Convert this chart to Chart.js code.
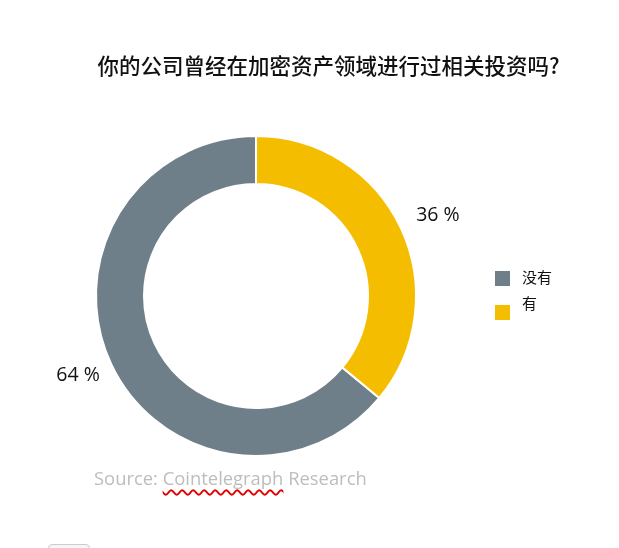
<!DOCTYPE html>
<html>
<head>
<meta charset="utf-8">
<script src="https://cdn.jsdelivr.net/npm/chart.js@4"></script>
<style>
  html, body { margin: 0; padding: 0; background: #fff; }
  #wrap { position: relative; width: 619px; height: 548px; overflow: hidden; }
  #chart { position: absolute; left: 0; top: 0; }
  #title {
    position: absolute; left: 0; top: 49px; width: 657px; text-align: center;
    font-family: "Noto Sans CJK SC", sans-serif; font-size: 21.5px; color: #111;
    font-weight: 500; white-space: nowrap;
  }
  #source {
    position: absolute; left: 94px; top: 465px;
    font-family: "Open Sans", sans-serif; font-size: 18.4px; color: #bdbdbd;
    white-space: nowrap;
  }
  #source .sp { text-decoration: underline wavy #e00000; text-decoration-thickness: 2px; text-underline-offset: 4px; }
  #tab {
    position: absolute; left: 48px; top: 544px; width: 40px; height: 10px;
    border: 1px solid #ccc; border-radius: 4px; background: #f6f6f6;
  }
</style>
</head>
<body>
<div id="wrap">
  <canvas id="chart" width="619" height="548"></canvas>
  <div id="title">你的公司曾经在加密资产领域进行过相关投资吗?</div>
  <div id="source">Source: <span class="sp">Cointelegraph</span> Research</div>
  <div id="tab"></div>
</div>
<script>
const categories = ['没有', '有'];
const shareValues = [64, 36];
const pctLabels = ['64 %', '36 %'];
const sliceColors = ['#6f7f89', '#f5bd00'];

// percentage labels outside each slice
const outsideLabels = {
    id: 'outsideLabels',
    afterDatasetsDraw(chart) {
        const { ctx } = chart;
        const meta = chart.getDatasetMeta(0);
        const nudge = [[3, -6], [1, 5]];
        ctx.save();
        ctx.font = '19.5px "Open Sans", sans-serif';
        ctx.fillStyle = '#111';
        ctx.textAlign = 'center';
        ctx.textBaseline = 'middle';
        meta.data.forEach((arc, i) => {
            const p = arc.getProps(['x', 'y', 'startAngle', 'endAngle', 'outerRadius'], true);
            const mid = (p.startAngle + p.endAngle) / 2;
            const r = p.outerRadius + 40;
            ctx.fillText(pctLabels[i],
                p.x + Math.cos(mid) * r + nudge[i][0],
                p.y + Math.sin(mid) * r + nudge[i][1]);
        });
        ctx.restore();
    },
};

// legend on the right, drawn from the chart's own labels and colours
const sideLegend = {
    id: 'sideLegend',
    afterDraw(chart) {
        const { ctx } = chart;
        const ds = chart.data.datasets[0];
        const boxTop = [271, 305];
        const textMid = [277, 303];
        ctx.save();
        ctx.font = '15px "Noto Sans CJK SC", sans-serif';
        ctx.textBaseline = 'middle';
        chart.data.labels.forEach((label, i) => {
            ctx.fillStyle = ds.backgroundColor[i];
            ctx.fillRect(495, boxTop[i], 15, 15);
            ctx.fillStyle = '#111';
            ctx.fillText(label, 522, textMid[i]);
        });
        ctx.restore();
    },
};

const ctx = document.getElementById('chart').getContext('2d');

new Chart(ctx, {
    type: 'doughnut',
    data: {
        labels: categories,
        datasets: [{
            data: shareValues,
            backgroundColor: sliceColors,
            borderColor: '#ffffff',
            borderWidth: 2,
        }],
    },
    options: {
        responsive: false,
        animation: false,
        rotation: 129.6,
        cutout: '70%',
        layout: {
            padding: { left: 95, right: 202, top: 135, bottom: 91 },
        },
        plugins: {
            legend: { display: false },
            title: { display: false },
            tooltip: { enabled: false },
        },
    },
    plugins: [outsideLabels, sideLegend],
});
</script>
</body>
</html>
